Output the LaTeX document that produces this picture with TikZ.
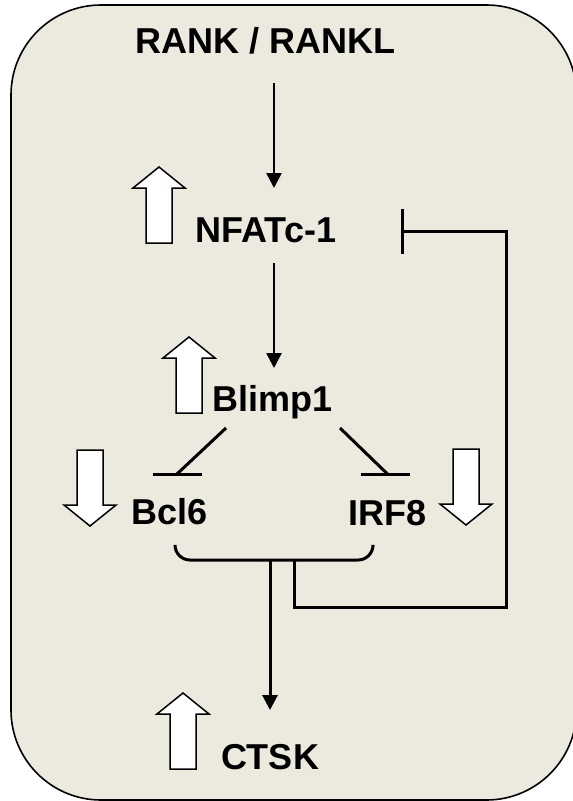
\documentclass[tikz,border=0pt]{standalone}
\usepackage{fontspec}
\setmainfont{Liberation Sans}
\usetikzlibrary{arrows.meta,calc}
\definecolor{boxbg}{HTML}{ECE9DF}
\tikzset{
  lbl/.style={font=\fontsize{36pt}{40pt}\selectfont\bfseries, inner sep=0pt, anchor=base},
  conn/.style={line width=3pt},
  act/.style={line width=2.6pt, -{Triangle[width=15pt,length=15pt]}},
  blk/.style={draw=black, fill=white, line width=1.5pt, line join=miter},
  uparr/.pic={\path[blk] (0,0) -- (26,21) -- (13,21) -- (13,76) -- (-13,76) -- (-13,21) -- (-26,21) -- cycle;},
  downarr/.pic={\path[blk] (0,0) -- (26,-21) -- (13,-21) -- (13,-76) -- (-13,-76) -- (-13,-21) -- (-26,-21) -- cycle;}
}
\begin{document}
\begin{tikzpicture}[x=1pt,y=-1pt]
\useasboundingbox (0,0) rectangle (573,801);
\clip (0,0) rectangle (573,801);
\draw[fill=boxbg, line width=1.6pt, rounded corners=90pt] (11,5) rectangle (576.5,800);

% labels
\node[lbl] (rank) at (265.5,53) {RANK / RANKL};
\node[lbl] (nfat) at (266,242) {NFATc-1};
\node[lbl] (blimp) at (272.5,411) {Blimp1};
\node[lbl] (bcl) at (170,524) {Bcl6};
\node[lbl] (irf) at (387.5,525) {IRF8};
\node[lbl] (ctsk) at (270,769) {CTSK};

% block arrows
\pic at (159,167) {uparr};
\pic at (189,337) {uparr};
\pic at (183,693) {uparr};
\pic at (90,526) {downarr};
\pic at (466,525) {downarr};

% activation arrows
\draw[act] ([shift={(8.5pt,-30pt)}]rank.base) -- ([shift={(8pt,54pt)}]nfat.base);
\draw[act] ([shift={(8pt,-21pt)}]nfat.base) -- ([shift={(1.5pt,43pt)}]blimp.base);

% inhibition of Bcl6 and IRF8
\draw[conn] ([shift={(-46.5pt,-17pt)}]blimp.base) -- ([shift={(7pt,50pt)}]bcl.base);
\draw[conn] ([shift={(-17pt,50pt)}]bcl.base) -- ([shift={(32pt,50pt)}]bcl.base);
\draw[conn] ([shift={(67.5pt,-17pt)}]blimp.base) -- ([shift={(0pt,51pt)}]irf.base);
\draw[conn] ([shift={(-26.5pt,51pt)}]irf.base) -- ([shift={(22.5pt,51pt)}]irf.base);

% bracket joining Bcl6 and IRF8
\coordinate (brL) at ([shift={(5pt,-22pt)}]bcl.base);
\coordinate (brR) at ([shift={(-14.5pt,-21pt)}]irf.base);
\coordinate (brLb) at (175,560);
\coordinate (brRb) at (373,560);
\coordinate (brmid) at (270,560);
\coordinate (brloop) at (294,560);
\draw[conn, rounded corners=15pt] (brL) -- (brLb) -- (brRb) -- (brR);

% to CTSK
\draw[act, line width=3pt] (brmid) -- ([shift={(0pt,59pt)}]ctsk.base);

% feedback loop inhibiting NFATc-1
\coordinate (loopc) at (506,607);
\draw[conn, -{Bar[width=45pt]}] (brloop) |- (loopc) |- ([shift={(135pt,11pt)}]nfat.base);
\end{tikzpicture}
\end{document}
